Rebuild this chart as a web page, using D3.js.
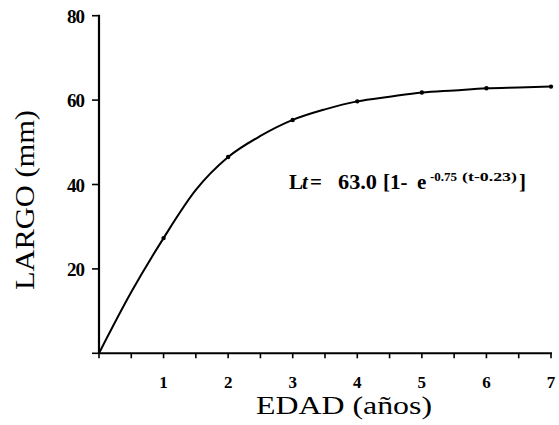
<!DOCTYPE html>
<html>
<head>
<meta charset="utf-8">
<script src="https://cdn.jsdelivr.net/npm/d3@7"></script>
<style>
  html, body { margin: 0; padding: 0; background: #fff; }
  svg { display: block; }
  text { font-family: "Liberation Serif", "Times New Roman", serif; fill: #000; }
</style>
</head>
<body>
<svg id="chart" width="559" height="425"></svg>
<script>
// Growth curve (von Bertalanffy) — age in years vs length in mm
const ages    = [0, 0.5, 1, 1.5, 2, 2.5, 3, 3.5, 4, 4.5, 5, 5.5, 6, 6.5, 7];
const lengths = [0, 14.5, 27.3, 38.7, 46.5, 51.5, 55.3, 57.8, 59.7, 60.8, 61.8, 62.3, 62.8, 63.0, 63.2];
const markedAges = [1, 2, 3, 4, 5, 6, 7];
const yTickValues = [20, 40, 60, 80];
const xTickValues = [0, 0.5, 1, 1.5, 2, 2.5, 3, 3.5, 4, 4.5, 5, 5.5, 6, 6.5, 7];
const xLabelValues = [1, 2, 3, 4, 5, 6, 7];

const svg = d3.select("#chart");

const x = d3.scaleLinear().domain([0, 7]).range([99, 551]);
const y = d3.scaleLinear().domain([0, 80]).range([353.3, 15.7]);

// Y axis
const yAxis = svg.append("g").attr("transform", `translate(${x(0)},0)`);
yAxis.append("line")
  .attr("x1", 0).attr("x2", 0)
  .attr("y1", y(80) - 1).attr("y2", y(0))
  .attr("stroke", "#000").attr("stroke-width", 2.2);
yAxis.selectAll("line.tick").data([0, ...yTickValues]).join("line")
  .attr("class", "tick")
  .attr("x1", -7).attr("x2", 0)
  .attr("y1", d => y(d)).attr("y2", d => y(d))
  .attr("stroke", "#000").attr("stroke-width", 1.6);
yAxis.selectAll("text").data(yTickValues).join("text")
  .attr("x", -15).attr("y", d => y(d) + 7)
  .attr("text-anchor", "end")
  .attr("font-size", 19).attr("font-weight", "bold")
  .attr("letter-spacing", -1)
  .text(d => d);

// X axis
const xAxis = svg.append("g").attr("transform", `translate(0,${y(0)})`);
xAxis.append("line")
  .attr("x1", x(0)).attr("x2", x(7) + 1)
  .attr("y1", 0).attr("y2", 0)
  .attr("stroke", "#000").attr("stroke-width", 2);
xAxis.selectAll("line.tick").data(xTickValues).join("line")
  .attr("class", "tick")
  .attr("x1", d => x(d)).attr("x2", d => x(d))
  .attr("y1", 0).attr("y2", 5)
  .attr("stroke", "#000").attr("stroke-width", 1.6);
xAxis.selectAll("text").data(xLabelValues).join("text")
  .attr("x", d => x(d)).attr("y", 35)
  .attr("text-anchor", "middle")
  .attr("font-size", 17).attr("font-weight", "bold")
  .text(d => d);

// Axis titles
svg.append("text")
  .attr("transform", "translate(34,200) rotate(-90)")
  .attr("text-anchor", "middle")
  .attr("font-size", 27)
  .attr("textLength", 180).attr("lengthAdjust", "spacingAndGlyphs")
  .text("LARGO (mm)");

svg.append("text")
  .attr("x", 344).attr("y", 414)
  .attr("text-anchor", "middle")
  .attr("font-size", 26)
  .attr("textLength", 176).attr("lengthAdjust", "spacingAndGlyphs")
  .text("EDAD (años)");

// Growth curve
const pts = ages.map((a, i) => [a, lengths[i]]);
const line = d3.line()
  .x(d => x(d[0])).y(d => y(d[1]))
  .curve(d3.curveMonotoneX);
svg.append("path")
  .datum(pts)
  .attr("d", line)
  .attr("fill", "none")
  .attr("stroke", "#000")
  .attr("stroke-width", 2);

svg.selectAll("circle.pt")
  .data(pts.filter(d => markedAges.includes(d[0])))
  .join("circle")
  .attr("class", "pt")
  .attr("cx", d => x(d[0])).attr("cy", d => y(d[1]))
  .attr("r", 2.2).attr("fill", "#000");

// Growth equation
const eq = svg.append("text")
  .attr("y", 189)
  .attr("font-size", 21).attr("font-weight", "bold");
eq.append("tspan").attr("x", 289).text("L");
eq.append("tspan").attr("x", 302).attr("font-style", "italic").text("t");
eq.append("tspan").attr("x", 310).text("=");
eq.append("tspan").attr("x", 338).attr("textLength", 39).attr("lengthAdjust", "spacingAndGlyphs").text("63.0");
eq.append("tspan").attr("x", 383).text("[1-");
eq.append("tspan").attr("x", 417).text("e");
eq.append("tspan").attr("x", 430).attr("y", 181).attr("font-size", 13).text("-0.75");
eq.append("tspan").attr("x", 462).attr("y", 181).attr("font-size", 13)
  .attr("textLength", 55).attr("lengthAdjust", "spacingAndGlyphs").text("(t-0.23)");
eq.append("tspan").attr("x", 519).attr("y", 189).text("]");
</script>
</body>
</html>
